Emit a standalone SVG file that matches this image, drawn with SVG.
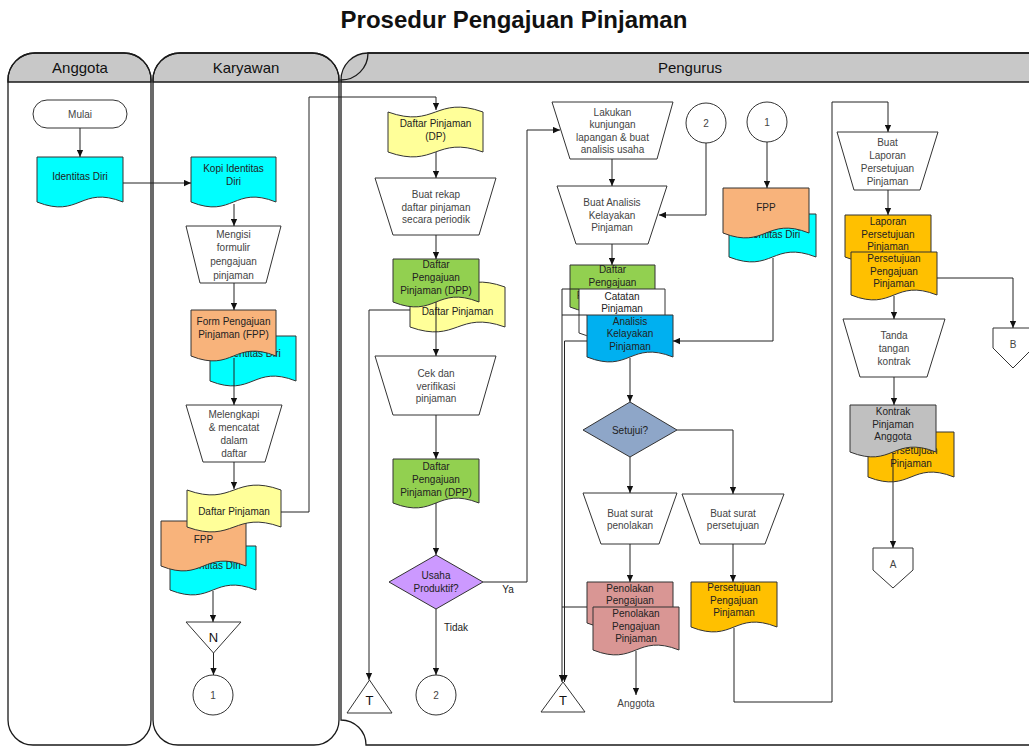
<svg xmlns="http://www.w3.org/2000/svg" width="1029" height="746" viewBox="0 0 1029 746">
<defs>
<marker id="ah" viewBox="0 0 10 10" refX="10" refY="5" markerWidth="8" markerHeight="7" orient="auto" markerUnits="userSpaceOnUse"><path d="M0,0.5 L10,5 L0,9.5 Z" fill="#111"/></marker>
<style>
.lane{fill:none;stroke:#1a1a1a;stroke-width:1.3}
.hdr{fill:#c8c8c8;stroke:#1a1a1a;stroke-width:1.3}
.ht{font-family:"Liberation Sans",Arial,sans-serif;font-size:15px;fill:#111;text-anchor:middle}
.sh{stroke:#333;stroke-width:1}
.w{fill:#fff}
.cy{fill:#00ffff}.or{fill:#f8b37b}.ye{fill:#ffff99}.gr{fill:#92d050}.pu{fill:#cc99ff}.bg{fill:#8ea6c8}.bl{fill:#00b0f0}.pk{fill:#d99694}.am{fill:#ffc000}.gy{fill:#c0c0c0}
.t{font-family:"Liberation Sans",Arial,sans-serif;font-size:10px;fill:#222;text-anchor:middle}
.tg{font-family:"Liberation Sans",Arial,sans-serif;font-size:10px;fill:#444;text-anchor:middle}
.tb{font-family:"Liberation Sans",Arial,sans-serif;font-size:13px;fill:#111;text-anchor:middle}
.c{fill:none;stroke:#222;stroke-width:1}
.ca{fill:none;stroke:#222;stroke-width:1;marker-end:url(#ah)}
</style>
</defs>
<rect width="1029" height="746" fill="#fff"/>
<text x="514" y="28" font-family="Liberation Sans,Arial,sans-serif" font-size="24" font-weight="bold" text-anchor="middle" fill="#111">Prosedur Pengajuan Pinjaman</text>

<g id="lanes">
<path class="hdr" d="M8,82 V80 A27,27 0 0 1 35,53 H124 A27,27 0 0 1 151,80 V82 Z"/>
<path class="lane" d="M8,80 A27,27 0 0 1 35,53 H124 A27,27 0 0 1 151,80 V720 A25,25 0 0 1 126,745 H33 A25,25 0 0 1 8,720 Z"/>
<text class="ht" x="80" y="73">Anggota</text>
<path class="hdr" d="M153,82 V80 A27,27 0 0 1 180,53 H312 A27,27 0 0 1 339,80 V82 Z"/>
<path class="lane" d="M153,80 A27,27 0 0 1 180,53 H312 A27,27 0 0 1 339,80 V720 A25,25 0 0 1 314,745 H178 A25,25 0 0 1 153,720 Z"/>
<text class="ht" x="246" y="73">Karyawan</text>
<path class="hdr" d="M341,82 V80 A27,27 0 0 1 368,53 H1060 V82 Z"/>
<path class="lane" d="M1060,53 H368 A27,27 0 0 1 341,80 V720 A25,25 0 0 1 366,745 H1060"/>
<text class="ht" x="690" y="73">Pengurus</text>
</g>

<g id="n-mulai"><rect class="sh w" x="33" y="100" width="94" height="28" rx="14"/><text class="tg" x="80" y="117.5">Mulai</text></g>
<g id="n-identitas"><path class="sh cy" d="M37,157 H123 V202 C80,185 80,219 37,202 Z"/><text class="t" x="80" y="180">Identitas Diri</text></g>

<g id="n-kopi"><path class="sh cy" d="M191,157 H276 V202 C233.5,185 233.5,219 191,202 Z"/><text class="t" x="233.5" y="172">Kopi Identitas</text><text class="t" x="233.5" y="185">Diri</text></g>
<g id="n-mengisi"><polygon class="sh w" points="186,226 281,226 266,283 200,283"/><text class="tg" x="233.5" y="237.5">Mengisi</text><text class="tg" x="233.5" y="251.2">formulir</text><text class="tg" x="233.5" y="264.9">pengajuan</text><text class="tg" x="233.5" y="278.6">pinjaman</text></g>
<g id="n-fpp-stack1">
<path class="sh cy" d="M210,336 H296 V381 C253,364 253,398 210,381 Z"/><text class="t" x="253" y="357">Identitas Diri</text>
<path class="sh or" d="M191,310 H276 V356 C233.5,339 233.5,373 191,356 Z"/><text class="t" x="233.5" y="325">Form Pengajuan</text><text class="t" x="233.5" y="338">Pinjaman (FPP)</text>
</g>
<g id="n-melengkapi"><polygon class="sh w" points="186,405 282,405 265,462 203,462"/><text class="tg" x="234" y="418">Melengkapi</text><text class="tg" x="234" y="431">&amp; mencatat</text><text class="tg" x="234" y="444">dalam</text><text class="tg" x="234" y="457">daftar</text></g>
<g id="n-stack2">
<path class="sh cy" d="M170,546 H256 V590 C213,573 213,607 170,590 Z"/><text class="t" x="213" y="569">Identitas Diri</text>
<path class="sh or" d="M161,521 H246 V566 C203.5,549 203.5,583 161,566 Z"/><text class="t" x="203.5" y="543">FPP</text>
<path class="sh ye" d="M187,490 C234,507 234,473 281,490 V527 C234,510 234,544 187,527 Z"/><text class="t" x="234" y="515">Daftar Pinjaman</text>
</g>
<g id="n-N"><polygon class="sh w" points="186,622 241,622 213.5,653"/><text class="tb" x="213.5" y="642">N</text></g>
<g id="n-c1a"><circle class="sh w" cx="213" cy="695" r="20"/><text class="tg" x="213" y="698.5">1</text></g>

<g id="n-dp"><path class="sh ye" d="M388,112 C435.5,129 435.5,95 483,112 V152 C435.5,135 435.5,169 388,152 Z"/><text class="t" x="435.5" y="127">Daftar Pinjaman</text><text class="t" x="435.5" y="140">(DP)</text></g>
<g id="n-rekap"><polygon class="sh w" points="375,178 496,178 479,235 393,235"/><text class="tg" x="436" y="198">Buat rekap</text><text class="tg" x="436" y="210.5">daftar pinjaman</text><text class="tg" x="436" y="223">secara periodik</text></g>
<g id="n-dpp1">
<path class="sh ye" d="M410,287 C457.5,304 457.5,270 505,287 V327 C457.5,310 457.5,344 410,327 Z"/><text class="t" x="457.5" y="315">Daftar Pinjaman</text>
<path class="sh gr" d="M393,259 H479 V302 C436,285 436,319 393,302 Z"/><text class="t" x="436" y="268">Daftar</text><text class="t" x="436" y="281">Pengajuan</text><text class="t" x="436" y="294">Pinjaman (DPP)</text>
</g>
<g id="n-cek"><polygon class="sh w" points="375,356 496,356 479,415 393,415"/><text class="tg" x="436" y="377">Cek dan</text><text class="tg" x="436" y="389.5">verifikasi</text><text class="tg" x="436" y="402">pinjaman</text></g>
<g id="n-dpp2"><path class="sh gr" d="M393,459 H479 V503 C436,486 436,520 393,503 Z"/><text class="t" x="436" y="470">Daftar</text><text class="t" x="436" y="483">Pengajuan</text><text class="t" x="436" y="496">Pinjaman (DPP)</text></g>
<g id="n-usaha"><polygon class="sh pu" points="436,555 483,582 436,609 389,582"/><text class="t" x="436" y="579">Usaha</text><text class="t" x="436" y="591.5">Produktif?</text></g>
<g id="n-T1"><polygon class="sh w" points="347,713 392,713 369.5,680"/><text class="tb" x="369.5" y="705">T</text></g>
<g id="n-c2a"><circle class="sh w" cx="436" cy="695" r="20"/><text class="tg" x="436" y="698.5">2</text></g>

<g id="n-lakukan"><polygon class="sh w" points="552,102 673,102 657,159 570,159"/><text class="tg" x="612.5" y="116">Lakukan</text><text class="tg" x="612.5" y="128">kunjungan</text><text class="tg" x="612.5" y="140.5">lapangan &amp; buat</text><text class="tg" x="612.5" y="153">analisis usaha</text></g>
<g id="n-c2b"><circle class="sh w" cx="706" cy="123" r="20"/><text class="tg" x="706" y="126.5">2</text></g>
<g id="n-c1b"><circle class="sh w" cx="767" cy="122" r="20"/><text class="tg" x="767" y="125.5">1</text></g>
<g id="n-analisis-op"><polygon class="sh w" points="557,186 667,186 648,244 576,244"/><text class="tg" x="612" y="206">Buat Analisis</text><text class="tg" x="612" y="219">Kelayakan</text><text class="tg" x="612" y="231">Pinjaman</text></g>
<g id="n-fpp3">
<path class="sh cy" d="M729,214 H816 V257 C772.5,240 772.5,274 729,257 Z"/><text class="t" x="772.5" y="238">Identitas Diri</text>
<path class="sh or" d="M723,188 H809 V233 C766,216 766,250 723,233 Z"/><text class="t" x="766" y="211">FPP</text>
</g>
<g id="n-stack3">
<path class="sh gr" d="M570,265 H655 V307 C612.5,290 612.5,324 570,307 Z"/><text class="t" x="612.5" y="273">Daftar</text><text class="t" x="612.5" y="286">Pengajuan</text><text class="t" x="612.5" y="299">Pinjaman (DPP)</text>
<path class="sh w" d="M579,289 H665 V333 C622,316 622,350 579,333 Z"/><text class="t" x="622" y="300">Catatan</text><text class="t" x="622" y="312">Pinjaman</text>
<path class="sh bl" d="M587,315 H673 V357 C630,340 630,374 587,357 Z"/><text class="t" x="630" y="325">Analisis</text><text class="t" x="630" y="337">Kelayakan</text><text class="t" x="630" y="350">Pinjaman</text>
</g>
<g id="n-setujui"><polygon class="sh bg" points="630,402 677,430 630,457 583,430"/><text class="t" x="630" y="433.5">Setujui?</text></g>
<g id="n-penolakan-op"><polygon class="sh w" points="583,493 677,493 659,544 601,544"/><text class="tg" x="630" y="516.5">Buat surat</text><text class="tg" x="630" y="529">penolakan</text></g>
<g id="n-persetujuan-op"><polygon class="sh w" points="682,494 784,494 765,544 700,544"/><text class="tg" x="733" y="516.5">Buat surat</text><text class="tg" x="733" y="529">persetujuan</text></g>
<g id="n-penolakan">
<path class="sh pk" d="M587,582 H673 V623 C630,606 630,640 587,623 Z"/><text class="t" x="630" y="592">Penolakan</text><text class="t" x="630" y="604">Pengajuan</text>
<path class="sh pk" d="M593,607 H679 V650 C636,633 636,667 593,650 Z"/><text class="t" x="636" y="617">Penolakan</text><text class="t" x="636" y="629.5">Pengajuan</text><text class="t" x="636" y="642">Pinjaman</text>
</g>
<g id="n-T2"><polygon class="sh w" points="541,712 585,712 563,682"/><text class="tb" x="563" y="705">T</text></g>
<g id="n-anggota-out"><text class="tg" x="636" y="707">Anggota</text></g>
<g id="n-persetujuan"><path class="sh am" d="M691,582 H777 V627 C734,610 734,644 691,627 Z"/><text class="t" x="734" y="591">Persetujuan</text><text class="t" x="734" y="603.5">Pengajuan</text><text class="t" x="734" y="616">Pinjaman</text></g>

<g id="n-laporan-op"><polygon class="sh w" points="837,132 938,132 920,190 854,190"/><text class="tg" x="887.5" y="146">Buat</text><text class="tg" x="887.5" y="159">Laporan</text><text class="tg" x="887.5" y="172">Persetujuan</text><text class="tg" x="887.5" y="184.5">Pinjaman</text></g>
<g id="n-laporan">
<path class="sh am" d="M845,215 H931 V257 C888,240 888,274 845,257 Z"/><text class="t" x="888" y="225">Laporan</text><text class="t" x="888" y="237.5">Persetujuan</text><text class="t" x="888" y="250">Pinjaman</text>
<path class="sh am" d="M851,252 H937 V295 C894,278 894,312 851,295 Z"/><text class="t" x="894" y="261.5">Persetujuan</text><text class="t" x="894" y="274.5">Pengajuan</text><text class="t" x="894" y="287">Pinjaman</text>
</g>
<g id="n-B"><polygon class="sh w" points="993,328 1033,328 1033,348 1013,368 993,348"/><text class="tg" x="1013" y="348">B</text></g>
<g id="n-tanda"><polygon class="sh w" points="843,319 945,319 927,377 860,377"/><text class="tg" x="894" y="339">Tanda</text><text class="tg" x="894" y="352">tangan</text><text class="tg" x="894" y="364.5">kontrak</text></g>
<g id="n-kontrak">
<path class="sh am" d="M868,432 H954 V477 C911,460 911,494 868,477 Z"/><text class="t" x="911" y="454">Persetujuan</text><text class="t" x="911" y="466.5">Pinjaman</text>
<path class="sh gy" d="M850,405 H936 V452 C893,435 893,469 850,452 Z"/><text class="t" x="893" y="415">Kontrak</text><text class="t" x="893" y="427.5">Pinjaman</text><text class="t" x="893" y="440">Anggota</text>
</g>
<g id="n-A"><polygon class="sh w" points="873,548 913,548 913,570 893,588 873,570"/><text class="tg" x="893" y="568">A</text></g>

<g id="connectors">
<path class="ca" d="M80,128 V157"/>
<path class="ca" d="M123,183 H191"/>
<path class="ca" d="M234,204 V226"/>
<path class="ca" d="M234,283 V310"/>
<path class="ca" d="M234,358 V405"/>
<path class="ca" d="M234,462 V489"/>
<path class="ca" d="M281,512 H309 V97 H436 V110"/>
<path class="ca" d="M213,591 V622"/>
<path class="ca" d="M213.5,653 V675"/>
<path class="ca" d="M436,152 V178"/>
<path class="ca" d="M436,235 V259"/>
<path class="ca" d="M436,302 V356"/>
<path class="ca" d="M410,310 H369 V680"/>
<path class="ca" d="M436,415 V459"/>
<path class="ca" d="M436,503 V555"/>
<path class="ca" d="M483,582 H527 V130 H560"/>
<text class="t" x="508" y="593">Ya</text>
<path class="ca" d="M436,609 V675"/>
<text class="t" x="456" y="631">Tidak</text>
<path class="ca" d="M612,159 V186"/>
<path class="ca" d="M706,143 V215 H659"/>
<path class="ca" d="M767,142 V188"/>
<path class="ca" d="M773,258 V341 H673"/>
<path class="ca" d="M612,244 V265"/>
<path class="ca" d="M579,289 H562 V682"/>
<path class="c" d="M587,315 H562"/>
<path class="ca" d="M587,341 H564.5 V682"/>
<path class="c" d="M587,607 H562"/>
<path class="ca" d="M630,358 V402"/>
<path class="ca" d="M630,457 V493"/>
<path class="ca" d="M677,430 H733 V494"/>
<path class="ca" d="M630,544 V582"/>
<path class="ca" d="M733,544 V582"/>
<path class="ca" d="M636,651 V695"/>
<path class="ca" d="M734,628 V702 H832 V102 H888 V132"/>
<path class="ca" d="M888,190 V215"/>
<path class="ca" d="M937,278 H1013 V328"/>
<path class="ca" d="M894,296 V319"/>
<path class="ca" d="M894,377 V405"/>
<path class="ca" d="M893,453 V548"/>
</g>
</svg>
